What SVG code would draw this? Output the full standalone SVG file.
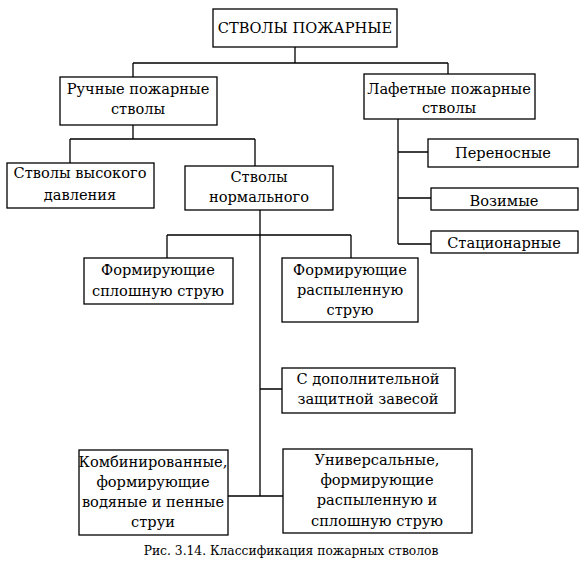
<svg xmlns="http://www.w3.org/2000/svg" width="580" height="561" viewBox="0 0 580 561">
<style>
rect{fill:#fff;stroke:#000;stroke-width:1.3}
.c path{fill:none;stroke:#000;stroke-width:1.3}
text{font-family:'DejaVu Serif',serif;font-size:14.6px;fill:#000;text-anchor:middle}
.cap{font-size:12.3px}
</style>
<rect x="0" y="0" width="580" height="561" style="stroke:none"/>
<g class="c" id="connectors">
<path d="M295,47V63M133,63H448M133,63V77M448,63V74"/>
<path d="M133,125V139M70,139H255M70,139V163M255,139V166"/>
<path d="M398,119V244M398,152H428M398,198H431M398,244H431"/>
<path d="M260,210V496M167,235H351M167,235V258M351,235V258M260,389H282M228,496H283"/>
</g>
<g id="n-top"><rect x="213" y="9" width="184" height="38"/><text x="305" y="33">СТВОЛЫ ПОЖАРНЫЕ</text></g>
<g id="n-ruchnye"><rect x="60" y="77" width="157" height="48"/><text x="138" y="94">Ручные пожарные</text><text x="138" y="114">стволы</text></g>
<g id="n-lafet"><rect x="364" y="74" width="171" height="45"/><text x="449" y="94">Лафетные пожарные</text><text x="449" y="113">стволы</text></g>
<g id="n-vysok"><rect x="7" y="163" width="147" height="45"/><text x="80" y="178">Стволы высокого</text><text x="80" y="200">давления</text></g>
<g id="n-normal"><rect x="185" y="166" width="148" height="44"/><text x="259" y="182">Стволы</text><text x="259" y="202">нормального</text></g>
<g id="n-perenos"><rect x="428" y="139" width="150" height="28"/><text x="503" y="158">Переносные</text></g>
<g id="n-vozim"><rect x="431" y="188" width="147" height="22"/><text x="504" y="206">Возимые</text></g>
<g id="n-stac"><rect x="431" y="231" width="147" height="22"/><text x="504" y="248">Стационарные</text></g>
<g id="n-splosh"><rect x="84" y="258" width="149" height="46"/><text x="158" y="275">Формирующие</text><text x="158" y="296">сплошную струю</text></g>
<g id="n-raspyl"><rect x="282" y="258" width="136" height="64"/><text x="350" y="275">Формирующие</text><text x="350" y="295">распыленную</text><text x="350" y="315">струю</text></g>
<g id="n-dop"><rect x="282" y="368" width="173" height="45"/><text x="368" y="384">С дополнительной</text><text x="368" y="404">защитной завесой</text></g>
<g id="n-komb"><rect x="79" y="450" width="149" height="85"/><text x="153" y="467">Комбинированные,</text><text x="153" y="487">формирующие</text><text x="153" y="507">водяные и пенные</text><text x="153" y="527">струи</text></g>
<g id="n-univ"><rect x="283" y="449" width="189" height="84"/><text x="377" y="465">Универсальные,</text><text x="377" y="485">формирующие</text><text x="377" y="505">распыленную и</text><text x="377" y="526">сплошную струю</text></g>
<text class="cap" x="291" y="555">Рис. 3.14. Классификация пожарных стволов</text>
</svg>
